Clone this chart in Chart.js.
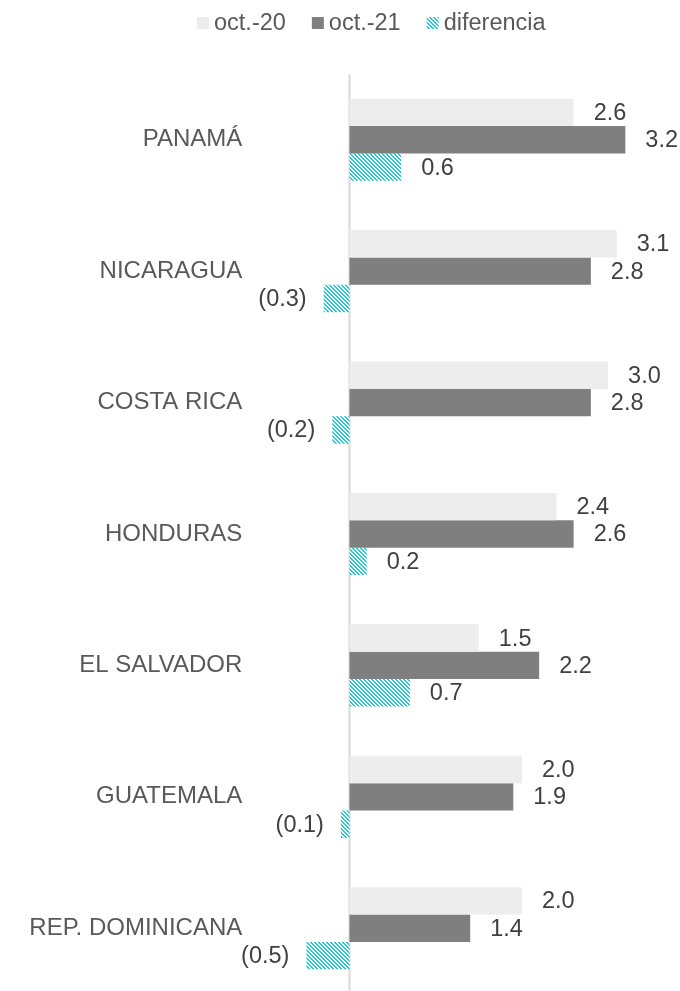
<!DOCTYPE html>
<html lang="es">
<head>
    <meta charset="UTF-8">
    <title>oct.-20 vs oct.-21</title>
    <script src="https://cdn.jsdelivr.net/npm/chart.js"></script>
    <style>
        html, body { margin: 0; padding: 0; background: #fff; overflow: hidden; }
        #wrap { width: 680px; height: 994px; }
    </style>
</head>
<body>
    <div id="wrap"><canvas id="chart"></canvas></div>

    <script>
        // datos
        const paises = ['PANAMÁ', 'NICARAGUA', 'COSTA RICA', 'HONDURAS', 'EL SALVADOR', 'GUATEMALA', 'REP. DOMINICANA'];
        const oct20 = [2.6, 3.1, 3.0, 2.4, 1.5, 2.0, 2.0];
        const oct21 = [3.2, 2.8, 2.8, 2.6, 2.2, 1.9, 1.4];
        const diferencia = [0.6, -0.3, -0.2, 0.2, 0.7, -0.1, -0.5];
        const serieNombres = ['oct.-20', 'oct.-21', 'diferencia'];

        const FONT = 'Liberation Sans, Arial, sans-serif';
        const SIZE = 23.5;

        // trama diagonal para la diferencia
        function trama() {
            const c = document.createElement('canvas');
            c.width = 4; c.height = 4;
            const g = c.getContext('2d');
            g.fillStyle = '#ffffff';
            g.fillRect(0, 0, 4, 4);
            g.fillStyle = '#29C9D3';
            for (let y = 0; y < 4; y++) {
                for (let x = 0; x < 4; x++) {
                    const d = ((x - y) % 4 + 4) % 4;
                    if (d === 0 || d === 1) g.fillRect(x, y, 1, 1);
                }
            }
            return g.createPattern(c, 'repeat');
        }
        const patron = trama();

        function fmt(v) {
            return v < 0 ? '(' + Math.abs(v).toFixed(1) + ')' : v.toFixed(1);
        }

        // linea del cero
        const lineaCero = {
            id: 'lineaCero',
            beforeDatasetsDraw(chart) {
                const ctx = chart.ctx;
                const x0 = chart.scales.x.getPixelForValue(0);
                ctx.save();
                ctx.strokeStyle = '#D9D9D9';
                ctx.lineWidth = 2;
                ctx.beginPath();
                ctx.moveTo(x0, chart.chartArea.top);
                ctx.lineTo(x0, chart.chartArea.bottom);
                ctx.stroke();
                ctx.restore();
            }
        };

        // etiquetas de valores
        const etiquetas = {
            id: 'etiquetas',
            afterDatasetsDraw(chart) {
                const ctx = chart.ctx;
                ctx.save();
                ctx.font = SIZE + 'px ' + FONT;
                ctx.fillStyle = '#404040';
                ctx.textBaseline = 'middle';
                chart.data.datasets.forEach((ds, i) => {
                    chart.getDatasetMeta(i).data.forEach((bar, j) => {
                        const v = ds.data[j];
                        if (v < 0) {
                            ctx.textAlign = 'right';
                            ctx.fillText(fmt(v), bar.x - 17, bar.y + 1);
                        } else {
                            ctx.textAlign = 'left';
                            ctx.fillText(fmt(v), bar.x + 20, bar.y + 1);
                        }
                    });
                });
                ctx.restore();
            }
        };

        // leyenda propia
        const leyenda = {
            id: 'leyenda',
            afterDraw(chart) {
                const ctx = chart.ctx;
                ctx.save();
                ctx.font = SIZE + 'px ' + FONT;
                ctx.textBaseline = 'middle';
                ctx.textAlign = 'left';
                let x = 197;
                const y = 23;
                chart.data.datasets.forEach((ds) => {
                    ctx.fillStyle = ds.backgroundColor;
                    ctx.fillRect(x, y - 6, 12, 12);
                    x += 17;
                    ctx.fillStyle = '#595959';
                    ctx.fillText(ds.label, x, y + 1);
                    x += ctx.measureText(ds.label).width + 26;
                });
                ctx.restore();
            }
        };

        const ctx = document.getElementById('chart').getContext('2d');
        const chart = new Chart(ctx, {
            type: 'bar',
            data: {
                labels: paises,
                datasets: [
                    { label: serieNombres[0], data: oct20, backgroundColor: '#EDEDED' },
                    { label: serieNombres[1], data: oct21, backgroundColor: '#7F7F7F' },
                    { label: serieNombres[2], data: diferencia, backgroundColor: patron }
                ]
            },
            options: {
                indexAxis: 'y',
                responsive: true,
                maintainAspectRatio: false,
                animation: false,
                layout: { padding: { top: 74, bottom: 0, left: 0, right: 0 } },
                datasets: {
                    bar: { categoryPercentage: 0.625, barPercentage: 1 }
                },
                plugins: {
                    legend: { display: false },
                    tooltip: { enabled: false }
                },
                scales: {
                    x: {
                        display: false,
                        min: -1,
                        max: 3.834
                    },
                    y: {
                        grid: { display: false, drawTicks: false },
                        border: { display: false },
                        ticks: {
                            padding: 21,
                            color: '#595959',
                            font: { family: FONT, size: 24 }
                        },
                        afterFit: (s) => {
                            s.width = 263.3;
                            s.paddingTop = 0;
                            s.paddingBottom = 0;
                        }
                    }
                }
            },
            plugins: [lineaCero, etiquetas, leyenda]
        });
    </script>
</body>
</html>
